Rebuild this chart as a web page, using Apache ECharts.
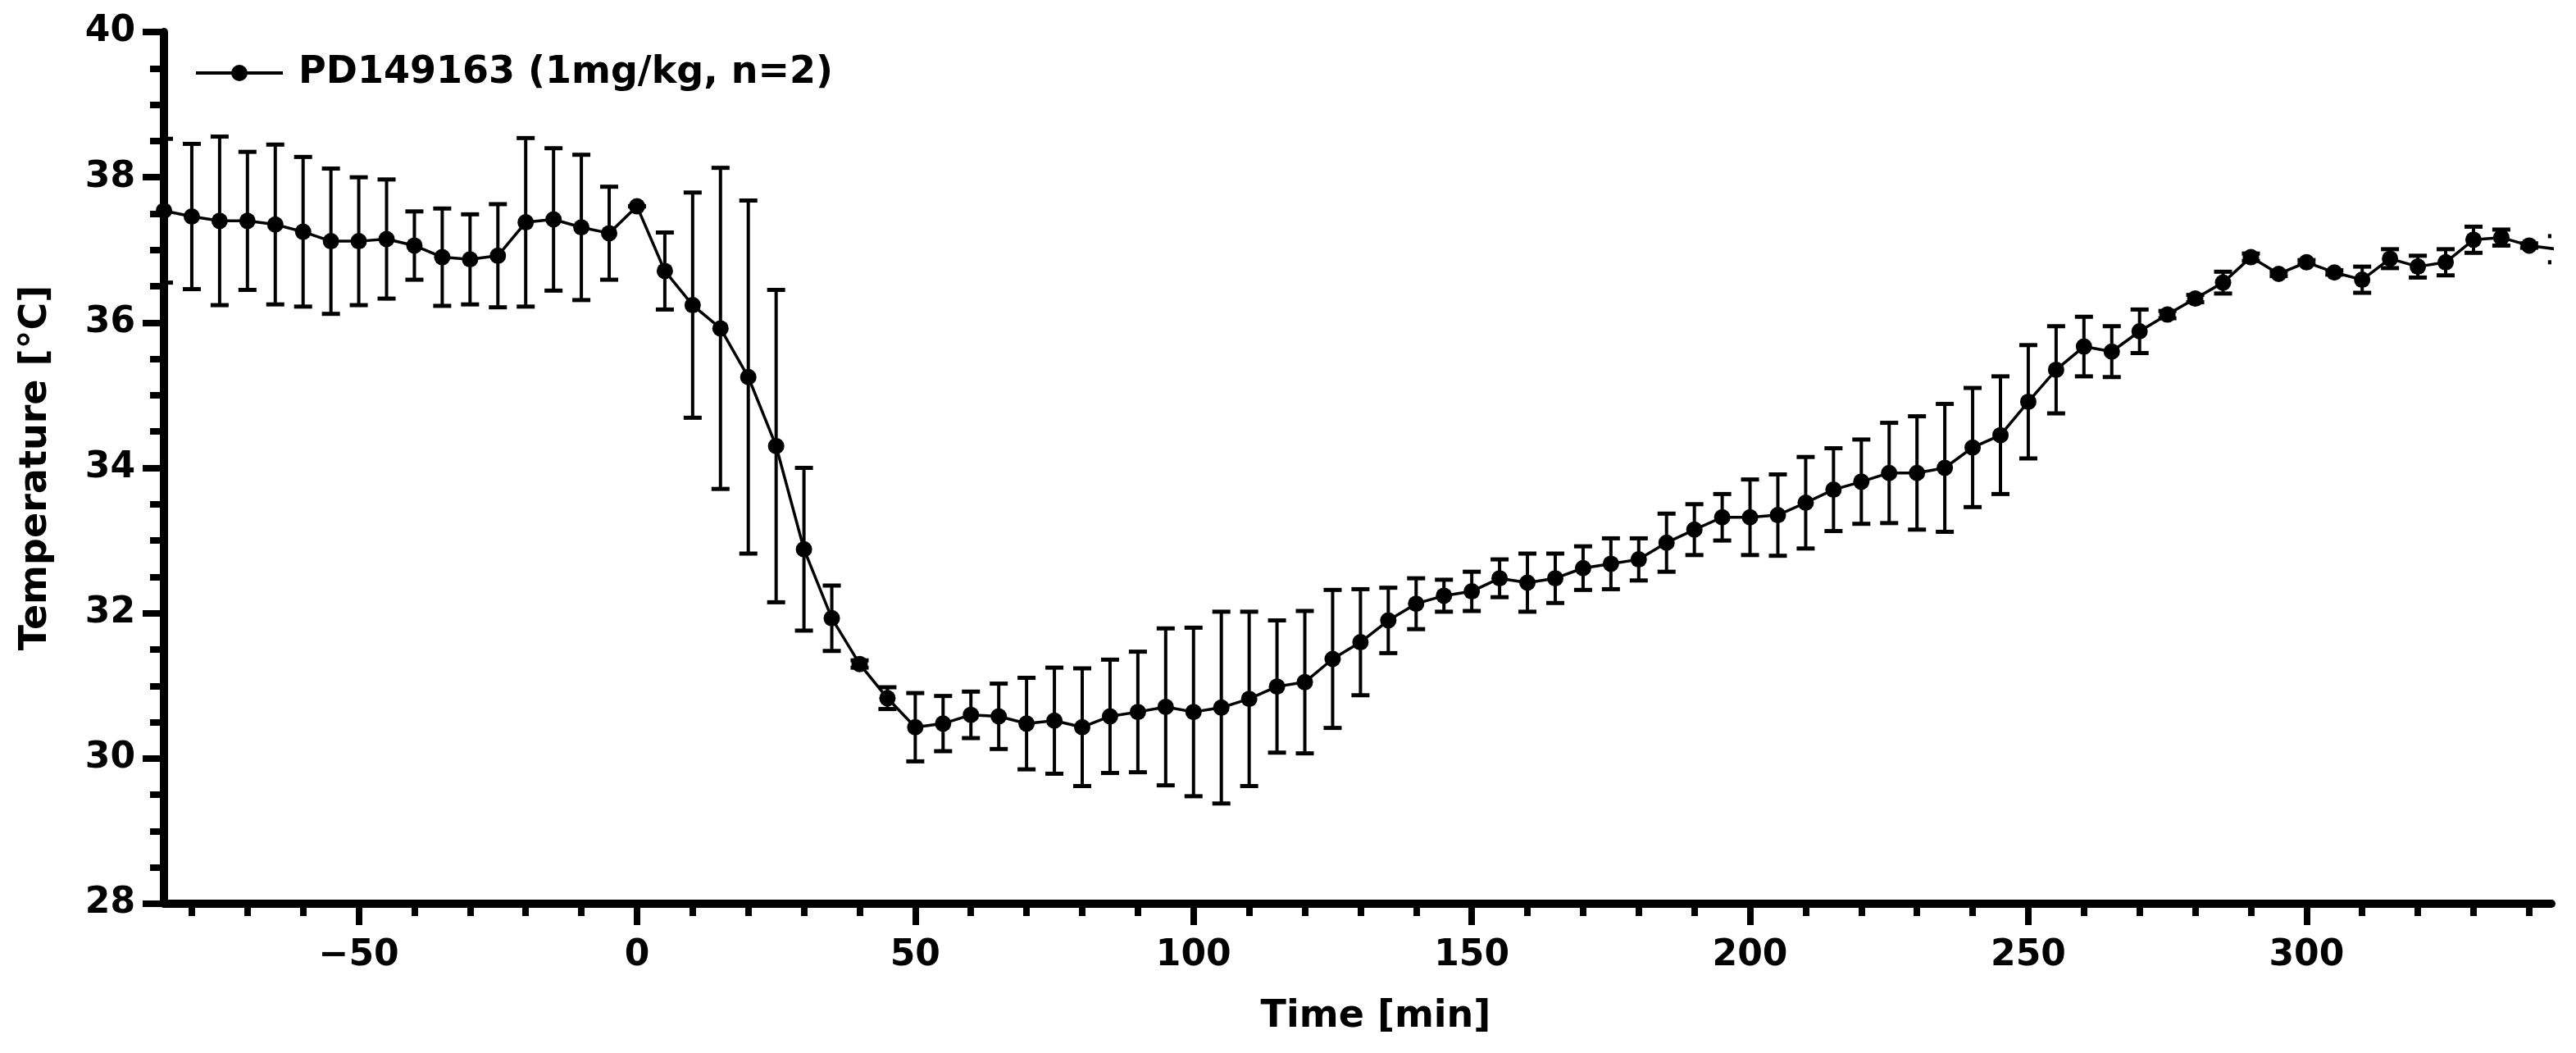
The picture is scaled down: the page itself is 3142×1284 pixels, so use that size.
<!DOCTYPE html>
<html>
<head>
<meta charset="utf-8">
<script src="https://cdn.jsdelivr.net/npm/echarts@6/dist/echarts.min.js"></script>
<style>
html,body{margin:0;padding:0;background:#ffffff;}
#chart{width:3142px;height:1284px;}
</style>
</head>
<body>
<div id="chart"></div>
<script>
const seriesName = 'PD149163 (1mg/kg, n=2)';

const times = [-85,-80,-75,-70,-65,-60,-55,-50,-45,-40,-35,-30,-25,-20,-15,-10,-5,0,
  5,10,15,20,25,30,35,40,45,50,55,60,65,70,75,80,85,90,95,100,105,110,115,120,125,130,
  135,140,145,150,155,160,165,170,175,180,185,190,195,200,205,210,215,220,225,230,235,
  240,245,250,255,260,265,270,275,280,285,290,295,300,305,310,315,320,325,330,335,340,345];

const temps = [37.54,37.46,37.40,37.40,37.35,37.25,37.12,37.12,37.15,37.06,36.90,36.87,36.92,37.38,37.42,37.31,37.23,37.60,
  36.71,36.24,35.92,35.25,34.30,32.88,31.93,31.30,30.83,30.43,30.48,30.60,30.58,30.48,30.52,30.43,30.58,30.64,30.71,30.64,30.70,30.82,30.99,31.05,31.37,31.60,
  31.90,32.13,32.24,32.30,32.48,32.42,32.48,32.62,32.68,32.74,32.97,33.15,33.32,33.32,33.35,33.52,33.70,33.81,33.93,33.93,34.00,
  34.28,34.45,34.91,35.35,35.67,35.60,35.88,36.11,36.33,36.55,36.90,36.67,36.83,36.69,36.59,36.88,36.77,36.83,37.14,37.17,37.06,37.01];

const errs = [0.99,1.00,1.16,0.95,1.10,1.03,1.00,0.88,0.82,0.47,0.67,0.62,0.71,1.16,0.98,1.00,0.64,0.00,
  0.53,1.55,2.21,2.43,2.15,1.12,0.45,0.05,0.15,0.47,0.38,0.32,0.45,0.63,0.73,0.81,0.78,0.83,1.08,1.16,1.32,1.20,0.91,0.98,0.95,0.73,
  0.45,0.35,0.22,0.27,0.26,0.40,0.34,0.30,0.35,0.29,0.40,0.35,0.32,0.52,0.56,0.63,0.57,0.58,0.69,0.78,0.88,
  0.82,0.81,0.78,0.60,0.41,0.35,0.30,0.05,0.05,0.15,0.05,0.03,0.03,0.03,0.18,0.13,0.15,0.18,0.18,0.11,0.03,0.18];

const xMajorTicks = [-50,0,50,100,150,200,250,300];
const xMinorTicks = [-80,-70,-60,-40,-30,-20,-10,10,20,30,40,60,70,80,90,110,120,130,140,
  160,170,180,190,210,220,230,240,260,270,280,290,310,320,330,340];
const yTicks = [28,30,32,34,36,38,40];

const FONT = 'DejaVu Sans';

const lineData = times.map((t, i) => [t, temps[i]]);
const errData = times.map((t, i) => [t, temps[i] - errs[i], temps[i] + errs[i]]);

// legend icon: horizontal line with a filled circle in the middle
const legendIcon = 'path://M0,10L106,10L106,14L0,14Z M43,12a10,10 0 1,1 20,0a10,10 0 1,1 -20,0Z';

const chart = echarts.init(document.getElementById('chart'), null, {renderer: 'canvas'});

const option = {
  animation: false,
  backgroundColor: '#ffffff',
  grid: {left: 200, right: 30, top: 39, bottom: 182, containLabel: false},
  legend: {
    show: true,
    data: [{name: seriesName, icon: legendIcon}],
    left: 234,
    top: 61,
    itemWidth: 106,
    itemHeight: 20,
    itemStyle: {color: '#000', borderWidth: 0},
    textStyle: {fontFamily: FONT, fontWeight: 'bold', fontSize: 46, color: '#000', padding: [0, 0, 0, 14]},
    selectedMode: false
  },
  xAxis: [
    {
      type: 'value',
      min: -85,
      max: 344,
      position: 'bottom',
      name: 'Time [min]',
      nameLocation: 'middle',
      nameGap: 115,
      nameTextStyle: {fontFamily: FONT, fontWeight: 'bold', fontSize: 46, color: '#000', padding: [0, 0, 0, 44]},
      axisLine: {show: true, onZero: false, lineStyle: {color: '#000', width: 10}},
      axisTick: {show: true, customValues: xMajorTicks, length: 26, lineStyle: {color: '#000', width: 8}},
      axisLabel: {
        show: true, customValues: xMajorTicks, margin: 42,
        fontFamily: FONT, fontWeight: 'bold', fontSize: 44, color: '#000',
        formatter: v => (v < 0 ? '\u2212' + Math.abs(v) : String(v))
      },
      splitLine: {show: false}
    },
    {
      type: 'value',
      min: -85,
      max: 344,
      position: 'bottom',
      axisLine: {show: false, onZero: false},
      axisTick: {show: true, customValues: xMinorTicks, length: 15, lineStyle: {color: '#000', width: 8}},
      axisLabel: {show: false},
      splitLine: {show: false}
    }
  ],
  yAxis: {
    type: 'value',
    min: 28,
    max: 40,
    interval: 2,
    name: 'Temperature [\u00B0C]',
    nameLocation: 'middle',
    nameGap: 133,
    nameRotate: 90,
    nameTextStyle: {fontFamily: FONT, fontWeight: 'bold', fontSize: 46, color: '#000'},
    axisLine: {show: true, onZero: false, lineStyle: {color: '#000', width: 10}},
    axisTick: {show: true, length: 26, lineStyle: {color: '#000', width: 8}},
    minorTick: {show: true, splitNumber: 4, length: 17, lineStyle: {color: '#000', width: 8}},
    axisLabel: {
      show: true, margin: 35, customValues: yTicks,
      fontFamily: FONT, fontWeight: 'bold', fontSize: 44, color: '#000'
    },
    splitLine: {show: false},
    minorSplitLine: {show: false}
  },
  series: [
    {
      type: 'custom',
      name: 'sem',
      xAxisIndex: 0,
      clip: true,
      z: 2,
      data: errData,
      renderItem: function (params, api) {
        const x = api.value(0);
        const lo = api.coord([x, api.value(1)]);
        const hi = api.coord([x, api.value(2)]);
        const half = 11;
        const st = {stroke: '#000', lineWidth: 4};
        const cap = {stroke: '#000', lineWidth: 5};
        return {
          type: 'group',
          children: [
            {type: 'line', shape: {x1: lo[0], y1: lo[1], x2: hi[0], y2: hi[1]}, style: st},
            {type: 'line', shape: {x1: hi[0] - half, y1: hi[1], x2: hi[0] + half, y2: hi[1]}, style: cap},
            {type: 'line', shape: {x1: lo[0] - half, y1: lo[1], x2: lo[0] + half, y2: lo[1]}, style: cap}
          ]
        };
      }
    },
    {
      type: 'line',
      name: seriesName,
      xAxisIndex: 0,
      data: lineData,
      clip: true,
      z: 3,
      symbol: 'circle',
      symbolSize: 20,
      showAllSymbol: true,
      smooth: false,
      itemStyle: {color: '#000'},
      lineStyle: {color: '#000', width: 3.5}
    }
  ]
};

chart.setOption(option);
</script>
</body>
</html>
